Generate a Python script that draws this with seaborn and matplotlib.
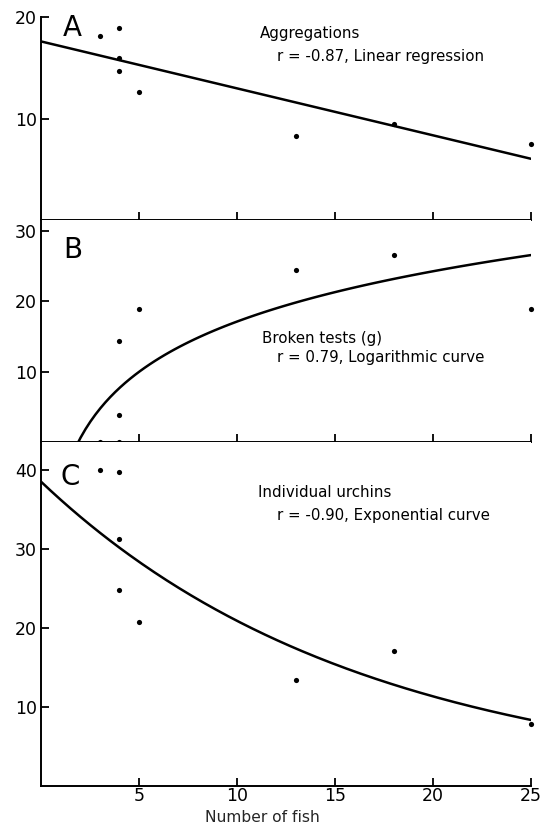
import numpy as np
import pandas as pd
import matplotlib
matplotlib.use("Agg")
import matplotlib.pyplot as plt
import seaborn as sns

sns.set_style("ticks")
plt.rcParams['font.family'] = ['DejaVu Sans']
plt.rcParams['axes.linewidth'] = 1.4
plt.rcParams['axes.edgecolor'] = 'black'
plt.rcParams['text.color'] = 'black'
plt.rcParams['xtick.color'] = 'black'
plt.rcParams['ytick.color'] = 'black'

# Data (number of fish in the area vs. urchin measures)
fish = [3, 4, 4, 4, 5, 13, 18, 25]
aggregations = [18.1, 18.9, 16.0, 14.7, 12.6, 8.3, 9.5, 7.5]
broken_tests = [0.0, 0.0, 3.9, 14.4, 19.0, 24.5, 26.6, 19.0]
urchins = [40.0, 39.7, 31.2, 24.8, 20.8, 13.4, 17.1, 7.9]

df = pd.DataFrame({"fish": fish, "aggregations": aggregations,
                   "broken": broken_tests, "urchins": urchins})

W, H = 546, 831
x_left, x_right = 41, 531


def make_axes(fig, top, bottom):
    return fig.add_axes([x_left / W, 1 - bottom / H,
                         (x_right - x_left) / W, (bottom - top) / H])


fig = plt.figure(figsize=(W / 100, H / 100), dpi=100)
ax_a = make_axes(fig, 17, 220)
ax_b = make_axes(fig, 220, 442)
ax_c = make_axes(fig, 442, 786)

ax_a.set_ylim(0, 20)
ax_b.set_ylim(0, 31.6)
ax_c.set_ylim(0, 43.5)
for ax in (ax_a, ax_b, ax_c):
    ax.set_xlim(0, 25)

line_kws = {"color": "black", "lw": 1.8}
dot_kws = {"color": "black", "s": 14, "clip_on": False, "zorder": 5,
           "linewidths": 0, "alpha": 1}

# A: linear regression
sns.regplot(data=df, x="fish", y="aggregations", ax=ax_a, ci=None, truncate=False,
            scatter_kws=dot_kws, line_kws=line_kws)

# B: logarithmic curve
with np.errstate(divide="ignore", invalid="ignore"):
    sns.regplot(data=df, x="fish", y="broken", ax=ax_b, ci=None, logx=True,
                truncate=False, scatter_kws=dot_kws, line_kws=line_kws)

# C: exponential curve, fitted in log space
b, ln_a = np.polyfit(df["fish"], np.log(df["urchins"]), 1)
grid = np.linspace(0, 25, 200)
curve = pd.DataFrame({"fish": grid, "fit": np.exp(ln_a + b * grid)})
sns.scatterplot(data=df, x="fish", y="urchins", ax=ax_c, **dot_kws)
sns.lineplot(data=curve, x="fish", y="fit", ax=ax_c, **line_kws)

for ax in (ax_a, ax_b, ax_c):
    ax.set_xticks([5, 10, 15, 20, 25])
    ax.tick_params(direction="in", length=5.5, width=1.3, labelsize=12.5, pad=3)
    ax.spines["top"].set_visible(False)
    ax.spines["right"].set_visible(False)
    ax.set_ylabel("")
    ax.set_xlabel("")

ax_a.set_yticks([10, 20])
ax_b.set_yticks([10, 20, 30])
ax_c.set_yticks([10, 20, 30, 40])
ax_a.tick_params(axis="x", labelbottom=False)
ax_b.tick_params(axis="x", labelbottom=False)
ax_c.tick_params(axis="x", pad=1)

ax_c.set_xlabel("Number of fish", fontsize=11.2, va="center")
ax_c.xaxis.set_label_coords(0.451, -0.092)

txt = {"fontsize": 10.8, "va": "center", "ha": "left"}
big = {"fontsize": 20, "va": "center", "ha": "left"}
ax_a.text(1.12, 18.9, "A", **big)
ax_a.text(11.17, 18.4, "Aggregations", **txt)
ax_a.text(12.04, 16.1, "r = -0.87, Linear regression", **txt)

ax_b.text(1.12, 27.4, "B", **big)
ax_b.text(11.28, 14.8, "Broken tests (g)", **txt)
ax_b.text(12.04, 12.0, "r = 0.79, Logarithmic curve", **txt)

ax_c.text(1.02, 39.1, "C", **big)
ax_c.text(11.07, 37.1, "Individual urchins", **txt)
ax_c.text(12.04, 34.2, "r = -0.90, Exponential curve", **txt)

fig.savefig("out.png", dpi=100)
plt.close(fig)
